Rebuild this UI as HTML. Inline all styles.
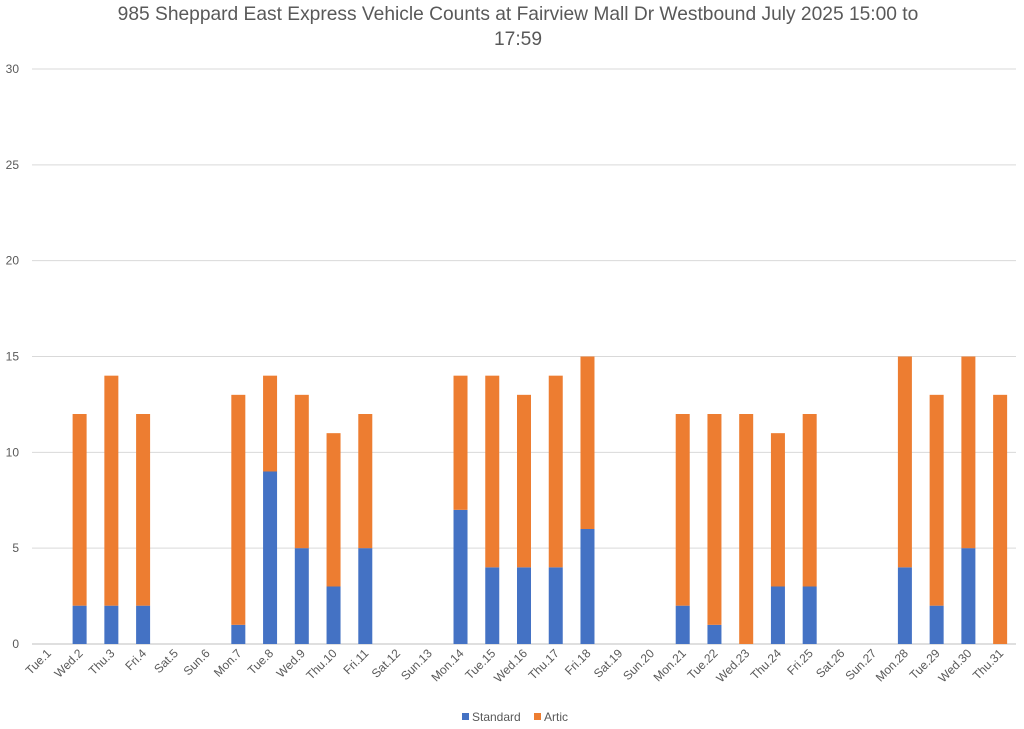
<!DOCTYPE html>
<html><head><meta charset="utf-8"><style>
body{margin:0;background:#fff;font-family:"Liberation Sans",sans-serif;}
#wrap{position:relative;width:1024px;height:729px;overflow:hidden;}
</style></head><body>
<div id="wrap">
<svg id="chart" width="1024" height="729" xmlns="http://www.w3.org/2000/svg">
<text x="518" y="20" text-anchor="middle" font-size="19.2" fill="#595959">985 Sheppard East Express Vehicle Counts at Fairview Mall Dr Westbound July 2025  15:00 to</text>
<text x="518" y="45" text-anchor="middle" font-size="19.2" fill="#595959">17:59</text>
<g id="grid"></g><g id="bars"></g><g id="xlabels"></g>
<rect x="462" y="713" width="7" height="7" fill="#4472C4"/>
<text x="472" y="721" font-size="12" fill="#595959">Standard</text>
<rect x="534" y="713" width="7" height="7" fill="#ED7D31"/>
<text x="544" y="721" font-size="12" fill="#595959">Artic</text>
</svg></div>
<script>
const categories=["Tue.1","Wed.2","Thu.3","Fri.4","Sat.5","Sun.6","Mon.7","Tue.8","Wed.9","Thu.10","Fri.11","Sat.12","Sun.13","Mon.14","Tue.15","Wed.16","Thu.17","Fri.18","Sat.19","Sun.20","Mon.21","Tue.22","Wed.23","Thu.24","Fri.25","Sat.26","Sun.27","Mon.28","Tue.29","Wed.30","Thu.31"];
const standard=[0,2,2,2,0,0,1,9,5,3,5,0,0,7,4,4,4,6,0,0,2,1,0,3,3,0,0,4,2,5,0];
const artic=[0,10,12,10,0,0,12,5,8,8,7,0,0,7,10,9,10,9,0,0,10,11,12,8,9,0,0,11,11,10,13];
const yTicks=[0,5,10,15,20,25,30];
const NS="http://www.w3.org/2000/svg";
const L=32,R=1016,T=69,B=644,YMAX=30;
const y=v=>B-(v/YMAX)*(B-T);
const band=(R-L)/categories.length;
const x=i=>L+band*(i+0.5);
const bw=14;
function mk(t,a){const e=document.createElementNS(NS,t);for(const k in a)e.setAttribute(k,a[k]);return e;}
const grid=document.getElementById('grid');
yTicks.forEach(t=>{
 const l=mk('line',{x1:L,x2:R,y1:y(t),y2:y(t),stroke:t===0?'#bfbfbf':'#d9d9d9','stroke-width':1});
 
 
 grid.appendChild(l);
 const tx=mk('text',{x:19,y:y(t)+4,'text-anchor':'end','font-size':12,fill:'#595959'});
 tx.textContent=t;
 
 
 grid.appendChild(tx);
});
const bars=document.getElementById('bars'),xl=document.getElementById('xlabels');
categories.forEach((c,i)=>{
 const s=standard[i],a=artic[i];
 if(s>0){const r=mk('rect',{x:x(i)-bw/2,y:y(s),width:bw,height:y(0)-y(s),fill:'#4472C4'});
 
 
 bars.appendChild(r);}
 if(a>0){const r=mk('rect',{x:x(i)-bw/2,y:y(s+a),width:bw,height:y(s)-y(s+a),fill:'#ED7D31'});
 
 
 bars.appendChild(r);}
 const tx=mk('text',{x:x(i)+4,y:654,'text-anchor':'end','font-size':12,fill:'#595959',transform:`rotate(-45 ${x(i)+4} 654)`});
 tx.textContent=c;
 
 
 xl.appendChild(tx);
});
</script>
</body></html>
